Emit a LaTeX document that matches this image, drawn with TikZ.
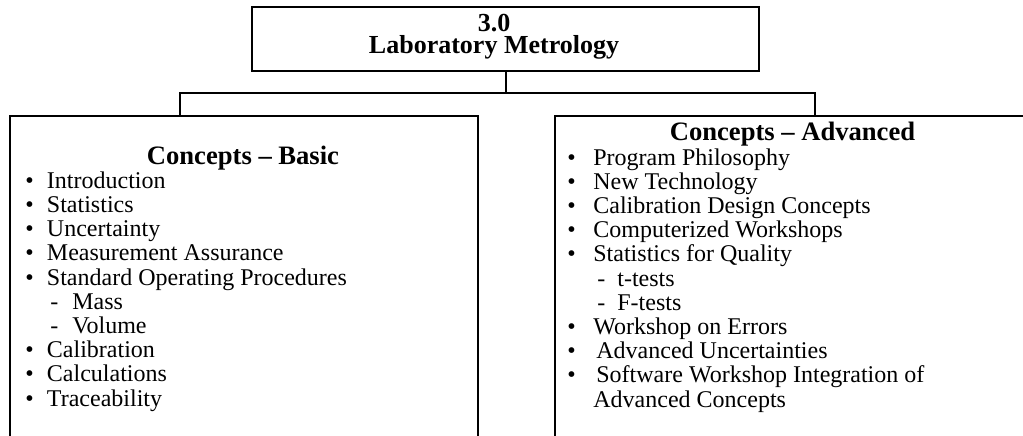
\documentclass[tikz,border=0pt]{standalone}
\usepackage{fontspec}
\setmainfont{Liberation Serif}
\newcommand{\bul}[2][10.8pt]{\makebox[#1][l]{\textbullet}#2}
\newcommand{\dsh}[3]{\hspace*{#1}\makebox[#2][l]{-}#3}
\begin{document}
\begin{tikzpicture}[x=0.5pt, y={(0pt,-0.5pt)},
  box/.style={draw, line width=1pt, inner sep=0pt, anchor=north west},
  head/.style={font=\fontsize{13.3}{13}\selectfont\bfseries, inner sep=0pt, anchor=base},
  list/.style={font=\fontsize{12}{12.1}\selectfont, align=left, inner sep=0pt, anchor=base west}]
\path[use as bounding box, clip] (0,0) rectangle (1023,435);
\node[box, minimum width=253.5pt, minimum height=32pt] (top) at (251,6) {};
\node[font=\fontsize{13}{11}\selectfont\bfseries, align=center, inner sep=0pt, anchor=base] (title) at (494,53.3) {3.0\\Laboratory Metrology};
\node[box, minimum width=234pt, minimum height=170pt] (basic) at (9,115) {};
\node[box, minimum width=240pt, minimum height=170pt] (advanced) at (554,115) {};
\coordinate (jl) at (180,93);
\coordinate (jr) at (815,93);
\draw[line width=1pt] (top.south) -- (top.south |- jl);
\draw[line width=1pt] (jl |- basic.north) -- (jl) -- (jr) -- (jr |- advanced.north);
\node[head] (basichead) at (243,164) {Concepts – Basic};
\node[head] (advhead) at (792.5,140) {Concepts – Advanced};
% base anchor of a multi-line node sits on its last line
\node[list] (basiclist) at (25,406) {\bul{Introduction}\\
\bul{Statistics}\\
\bul{Uncertainty}\\
\bul{Measurement Assurance}\\
\bul{Standard Operating Procedures}\\
\dsh{12.5pt}{11pt}{Mass}\\
\dsh{12.5pt}{11pt}{Volume}\\
\bul{Calibration}\\
\bul{Calculations}\\
\bul{Traceability}};
\node[list] (advlist) at (567,407) {\bul[13pt]{Program Philosophy}\\
\bul[13pt]{New Technology}\\
\bul[13pt]{Calibration Design Concepts}\\
\bul[13pt]{Computerized Workshops}\\
\bul[13pt]{Statistics for Quality}\\
\dsh{15pt}{10pt}{t-tests}\\
\dsh{15pt}{10pt}{F-tests}\\
\bul[13pt]{Workshop on Errors}\\
\bul[14.5pt]{Advanced Uncertainties}\\
\bul[14.5pt]{Software Workshop Integration of}\\
\hspace*{13pt}Advanced Concepts};
\end{tikzpicture}
\end{document}
